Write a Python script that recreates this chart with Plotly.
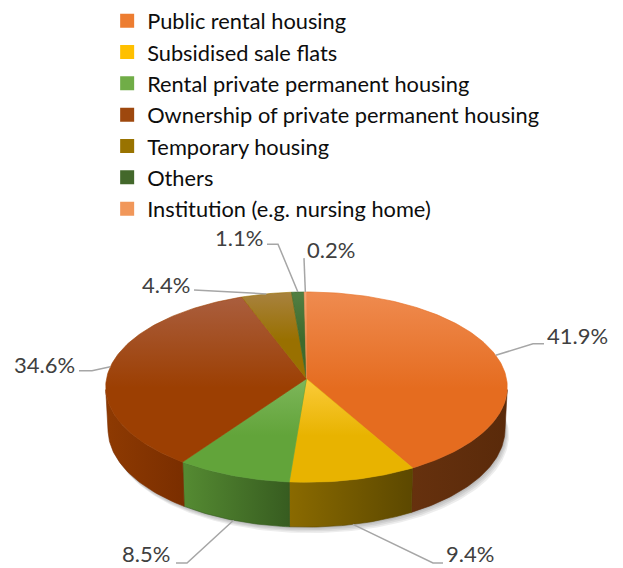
import numpy as np
import plotly.graph_objects as go

# ---------------- data ----------------
categories = [
    "Public rental housing",
    "Subsidised sale flats",
    "Rental private permanent housing",
    "Ownership of private permanent housing",
    "Temporary housing",
    "Others",
    "Institution (e.g. nursing home)",
]
shares = [41.9, 9.4, 8.5, 34.6, 4.4, 1.1, 0.2]
label_texts = [f"{v:.1f}%" for v in shares]

# ---------------- styles ----------------
legend_colors = ["#ED7D31", "#FFC000", "#70AD47", "#9E480E", "#997300", "#43682B", "#F1975A"]
top_light = ["#EF8B50", "#FBCB3A", "#7DB65A", "#AA5E3E", "#A8823F", "#527F43", "#F4A474"]
top_dark = ["#E56C1F", "#E8B300", "#62A43A", "#9C3F02", "#997000", "#3E6A2C", "#F08E50"]
side_left = ["#66310E", "#8A6A00", "#558B32", "#8E3A02", "#7A5A00", "#355422", "#B8642C"]
side_right = ["#5A2A0A", "#5C4800", "#375C20", "#7A2E00", "#5E4600", "#2C461C", "#A05628"]

FONT = "Lato"
LABEL_COLOR = "#404040"
LEADER_COLOR = "#A6A6A6"

# view geometry (pixel layout of the tilted disc)
CX, CY = 306.5, 378.0
FOCAL = 1982.0
DIST = 9.91
TILT_SIN = 0.4737
TILT_COS = np.sqrt(1 - TILT_SIN ** 2)
DEPTH = 0.2426

# label layout: text centre, knee point, line end (pixels)
label_layout = [
    ((577, 335), (533, 343), (544, 343)),
    ((470, 553), (433, 563), (443, 563)),
    ((146, 553), (187, 563), (176, 563)),
    ((44, 364), (92, 370), (79, 370)),
    ((166, 283), (194, 289), (194, 289)),
    ((239, 236), (278, 243), (267, 243)),
    ((331, 248), (304, 257), (304, 257)),
]


def project(theta, t):
    X = np.sin(theta)
    Z = np.cos(theta)
    yc = Z * TILT_SIN - t * TILT_COS
    zc = DIST + Z * TILT_COS + t * TILT_SIN
    return CX + FOCAL * X / zc, CY - FOCAL * yc / zc


total = sum(shares)
bounds = np.concatenate([[0.0], np.cumsum(shares)]) / total * 2 * np.pi
c = 1.0 / (DIST * TILT_COS)
vis0 = np.arccos(-c)
vis1 = 2 * np.pi - vis0

fig = go.Figure()

# soft shadow under the disc
th_all = np.linspace(0, 2 * np.pi, 361)
bx, by = project(th_all, DEPTH)
for k, (dx, dy) in enumerate([(1, 1.5), (2, 3), (3, 4.5), (4, 6)]):
    fig.add_trace(go.Scatter(
        x=bx + dx, y=by + dy, fill="toself", mode="lines",
        line=dict(width=0), fillcolor="rgba(0,0,0,0.07)",
        hoverinfo="skip", showlegend=False))

# side walls
for i in range(len(shares)):
    a0, a1 = bounds[i], bounds[i + 1]
    s0, s1 = max(a0, vis0), min(a1, vis1)
    if s1 <= s0:
        continue
    th = np.linspace(s0, s1, max(4, int((s1 - s0) / np.pi * 180)))
    tx, ty = project(th, 0.0)
    lx, ly = project(th[::-1], DEPTH)
    xs = np.concatenate([tx, lx, tx[:1]])
    ys = np.concatenate([ty, ly, ty[:1]])
    fig.add_trace(go.Scatter(
        x=xs, y=ys, fill="toself", mode="lines",
        line=dict(width=0.6, color=side_right[i]),
        fillgradient=dict(type="horizontal",
                          colorscale=[[0, side_left[i]], [1, side_right[i]]],
                          start=float(xs.min()), stop=float(xs.max())),
        hoverinfo="skip", showlegend=False))

# top faces
for i in range(len(shares)):
    a0, a1 = bounds[i], bounds[i + 1]
    th = np.linspace(a0, a1, max(4, int((a1 - a0) / np.pi * 180)))
    tx, ty = project(th, 0.0)
    xs = np.concatenate([[CX], tx, [CX]])
    ys = np.concatenate([[CY], ty, [CY]])
    fig.add_trace(go.Scatter(
        x=xs, y=ys, fill="toself", mode="lines",
        line=dict(width=0.6, color=top_dark[i]),
        fillgradient=dict(type="vertical",
                          colorscale=[[0, top_light[i]], [0.55, top_dark[i]], [1, top_dark[i]]],
                          start=float(ys.min()), stop=float(ys.max())),
        name=categories[i], hovertemplate=f"{categories[i]}: {label_texts[i]}<extra></extra>",
        showlegend=False))

# leader lines and labels
for i in range(len(shares)):
    mid = (bounds[i] + bounds[i + 1]) / 2
    t = DEPTH if vis0 < mid < vis1 else 0.0
    ax_, ay_ = project(mid, t)
    (tx_, ty_), (kx, ky), (ex, ey) = label_layout[i]
    fig.add_trace(go.Scatter(
        x=[ax_, kx, ex], y=[ay_, ky, ey], mode="lines",
        line=dict(color=LEADER_COLOR, width=1.5),
        hoverinfo="skip", showlegend=False))
    fig.add_annotation(x=tx_, y=ty_, text=label_texts[i], showarrow=False,
                       xanchor="center", yanchor="middle",
                       font=dict(family=FONT, size=22, color=LABEL_COLOR))

# legend entries
for i, name in enumerate(categories):
    fig.add_trace(go.Scatter(
        x=[None], y=[None], mode="markers", name=name, legendgroup=str(i),
        marker=dict(symbol="square", size=14, color=legend_colors[i])))

fig.update_layout(
    width=623, height=568,
    margin=dict(l=0, r=0, t=0, b=0),
    paper_bgcolor="white", plot_bgcolor="white",
    xaxis=dict(range=[0, 623], visible=False, fixedrange=True),
    yaxis=dict(range=[568, 0], visible=False, fixedrange=True),
    showlegend=True,
    legend=dict(x=0.172, y=1.004, xanchor="left", yanchor="top",
                font=dict(family=FONT, size=21.8, color="#0d0d0d"),
                traceorder="grouped", tracegroupgap=0,
                bgcolor="rgba(0,0,0,0)", itemclick=False, itemdoubleclick=False),
)

fig.write_html("out.html", config={"displayModeBar": False},
               post_script="document.body.style.margin='0';")
